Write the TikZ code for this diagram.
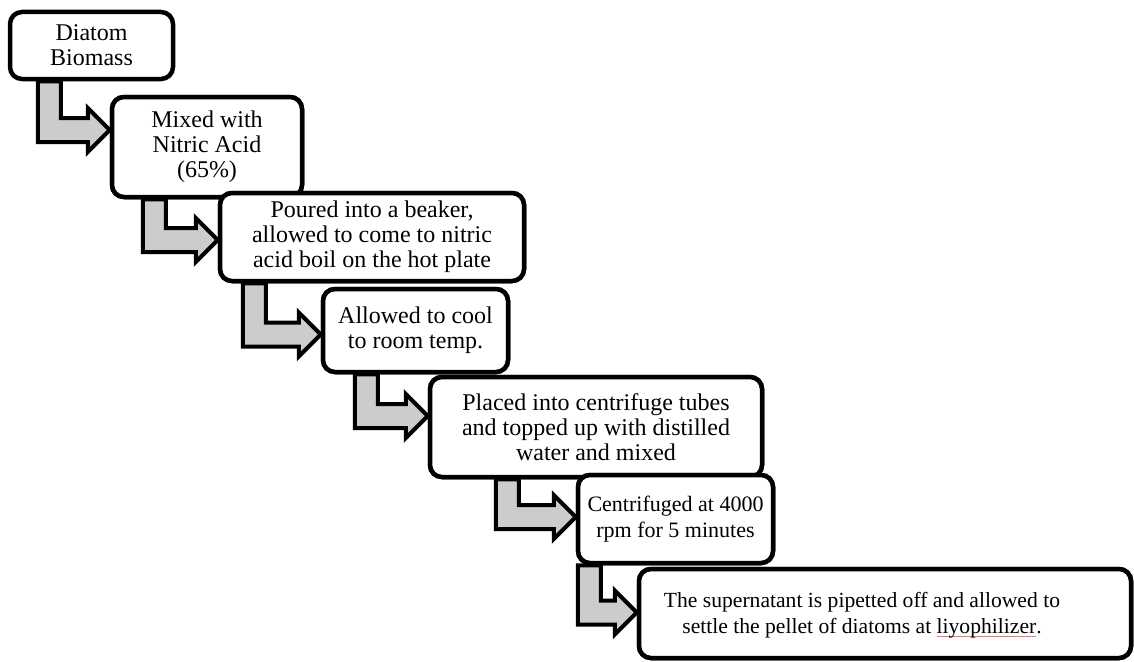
\documentclass[tikz,border=0pt]{standalone}
\usepackage{fontspec}
\setmainfont{Liberation Serif}
\usetikzlibrary{calc}
\definecolor{arrowgray}{RGB}{204,204,204}
\definecolor{spellred}{RGB}{235,120,120}
\newcommand{\spellul}[1]{\setbox0\hbox{#1}\rlap{\color{spellred}\rule[-3.5pt]{\wd0}{0.8pt}}\box0}
\tikzset{
  stepbox/.style={draw=black, line width=4.5pt, rounded corners=12pt, fill=white,
    align=center, inner sep=0pt, font=\fontsize{24}{25}\selectfont},
  smalltext/.style={font=\fontsize{22}{26}\selectfont},
  bendarrow/.style={draw=black, line width=4pt, fill=arrowgray, line join=miter}
}
% #1 source, #2 target, #3 shaft offset from source left, #4 tip offset (up) from target west
\newcommand{\bentarrow}[4]{%
  \path[bendarrow] let \p1=(#1.south west), \p2=(#2.west) in
    ({\x1+#3pt},{\y1}) -- ({\x1+#3pt},{\y2+#4pt-12pt}) --
    ({\x2-22pt},{\y2+#4pt-12pt}) -- ({\x2-22pt},{\y2+#4pt-22pt}) --
    ({\x2},{\y2+#4pt}) -- ({\x2-22pt},{\y2+#4pt+22pt}) --
    ({\x2-22pt},{\y2+#4pt+12pt}) -- ({\x1+#3pt+23pt},{\y2+#4pt+12pt}) --
    ({\x1+#3pt+23pt},{\y1}) -- cycle;}
\begin{document}
\begin{tikzpicture}[x=1pt,y=-1pt]
\useasboundingbox (0,0) rectangle (1134,661);
\node[stepbox, minimum width=163pt, minimum height=67pt] (b1) at (91.5,45.5) {Diatom\\Biomass};
\node[stepbox, minimum width=190pt, minimum height=100pt] (b2) at (207,147) {Mixed with\\Nitric Acid\\(65\%)};
\bentarrow{b1}{b2}{30}{17}
\node[stepbox, minimum width=190pt, minimum height=100pt] (b2) at (207,147) {Mixed with\\Nitric Acid\\(65\%)};
\node[stepbox, minimum width=304pt, minimum height=88pt] (b3) at (372,237) {Poured into a beaker,\\allowed to come to nitric\\acid boil on the hot plate};
\bentarrow{b2}{b3}{33}{-3}
\node[stepbox, minimum width=304pt, minimum height=88pt] (b3) at (372,237) {Poured into a beaker,\\allowed to come to nitric\\acid boil on the hot plate};
\node[stepbox, minimum width=185pt, minimum height=83pt] (b4) at (415.5,330.5) {Allowed to cool\\to room temp.};
\bentarrow{b3}{b4}{25}{-4}
\node[stepbox, minimum width=185pt, minimum height=83pt] (b4) at (415.5,330.5) {Allowed to cool\\to room temp.};
\node[stepbox, minimum width=332pt, minimum height=100pt] (b5) at (596,427) {Placed into centrifuge tubes\\and topped up with distilled\\water and mixed};
\bentarrow{b4}{b5}{34}{11}
\node[stepbox, minimum width=332pt, minimum height=100pt] (b5) at (596,427) {Placed into centrifuge tubes\\and topped up with distilled\\water and mixed};
\node[stepbox, smalltext, minimum width=195pt, minimum height=88pt] (b6) at (675.5,519) {Centrifuged at 4000\\rpm for 5 minutes};
\bentarrow{b5}{b6}{68}{2}
\node[stepbox, smalltext, minimum width=195pt, minimum height=88pt] (b6) at (675.5,519) {Centrifuged at 4000\\rpm for 5 minutes};
\node[stepbox, minimum width=492pt, minimum height=89pt] (b7) at (885,613.5) {};
\bentarrow{b6}{b7}{2}{1}
\node[stepbox, minimum width=492pt, minimum height=89pt] (b7) at (885,613.5) {};
\node[align=center, inner sep=0pt, font=\fontsize{21.6}{26}\selectfont] (b7text) at ($(b7.center)+(-23,2)$) {The supernatant is pipetted off and allowed to\\settle the pellet of diatoms at \spellul{liyophilizer}.};
\end{tikzpicture}
\end{document}
